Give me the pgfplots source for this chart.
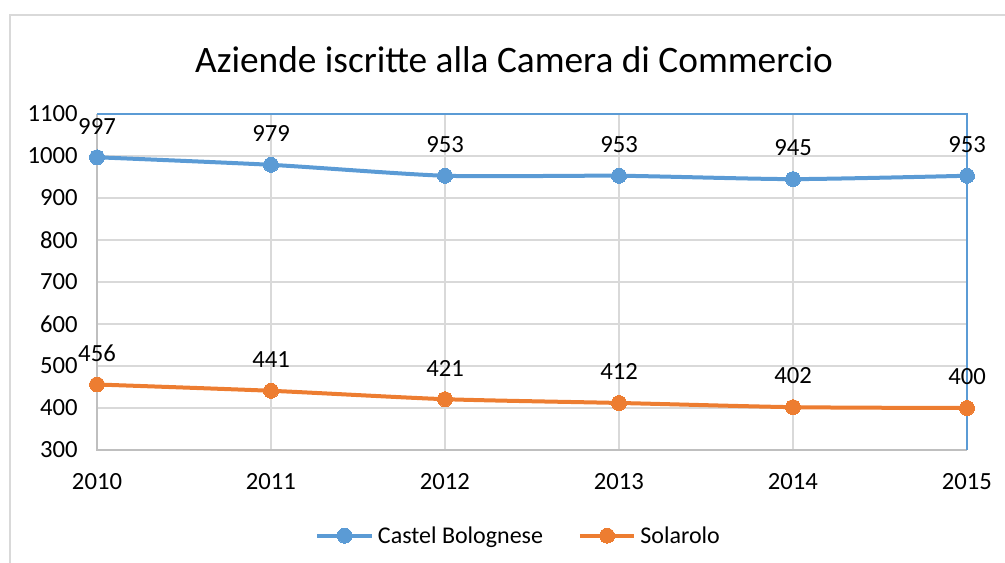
\documentclass[border=0pt]{standalone}
\usepackage{fontspec}
\setmainfont{Carlito}
\usepackage{pgfplots}
\pgfplotsset{compat=1.18}
\definecolor{cblue}{HTML}{5B9BD5}
\definecolor{corange}{HTML}{ED7D31}
\definecolor{gridgray}{HTML}{D9D9D9}
\definecolor{axgray}{HTML}{BFBFBF}
\begin{document}
\begin{tikzpicture}
\begin{scope}[x=0.75pt,y=-0.75pt]
\useasboundingbox (0,0) rectangle (1005,563);
\draw[gridgray,line width=1.2pt] (10,15) rectangle (1020,580);
\node[font=\fontsize{28}{32}\selectfont] at (514,60) {Aziende iscritte alla Camera di Commercio};
\end{scope}
\begin{axis}[
  at={(72.75pt,-337.5pt)}, anchor=south west,
  scale only axis, width=652.5pt, height=252pt,
  xmin=2010, xmax=2015, ymin=300, ymax=1100,
  xtick={2010,...,2015}, ytick={300,400,...,1100},
  /pgf/number format/assume math mode=true,
  /pgf/number format/set thousands separator={},
  tick label style={font=\fontsize{18.5}{21}\selectfont},
  xticklabel style={yshift=-14pt},
  yticklabel style={xshift=-11pt},
  major tick length=0pt,
  grid=major, major grid style={gridgray,line width=1.1pt},
  axis line style={draw=none},
  legend columns=2,
  legend style={at={(0.485,-0.255)}, anchor=center, draw=none, fill=none,
    font=\fontsize{18}{21}\selectfont, column sep=1pt,
    /tikz/every even column/.append style={column sep=24pt}},
  legend image code/.code={\draw[mark repeat=2,mark phase=2] plot coordinates {(0cm,0cm)(0.72cm,0cm)(1.44cm,0cm)};},
  nodes near coords,
  every node near coord/.append style={font=\fontsize{18.5}{21}\selectfont, text=black, yshift=14pt},
  clip=false,
]
\draw[axgray,line width=1.3pt] (rel axis cs:0,1) -- (rel axis cs:0,0) -- (rel axis cs:1,0);
\draw[cblue,line width=1.2pt] (rel axis cs:0,1) -- (rel axis cs:1,1) -- (rel axis cs:1,0);
\addplot[cblue, line width=3pt, smooth, tension=0.4, mark=*, mark size=5.6pt, mark options={solid, fill=cblue, draw=cblue, line width=0pt}]
  coordinates {(2010,997) (2011,979) (2012,953) (2013,953) (2014,945) (2015,953)};
\addlegendentry{Castel Bolognese}
\addplot[corange, line width=3pt, smooth, tension=0.4, mark=*, mark size=5.6pt, mark options={solid, fill=corange, draw=corange, line width=0pt}]
  coordinates {(2010,456) (2011,441) (2012,421) (2013,412) (2014,402) (2015,400)};
\addlegendentry{Solarolo}
\end{axis}
\end{tikzpicture}
\end{document}
